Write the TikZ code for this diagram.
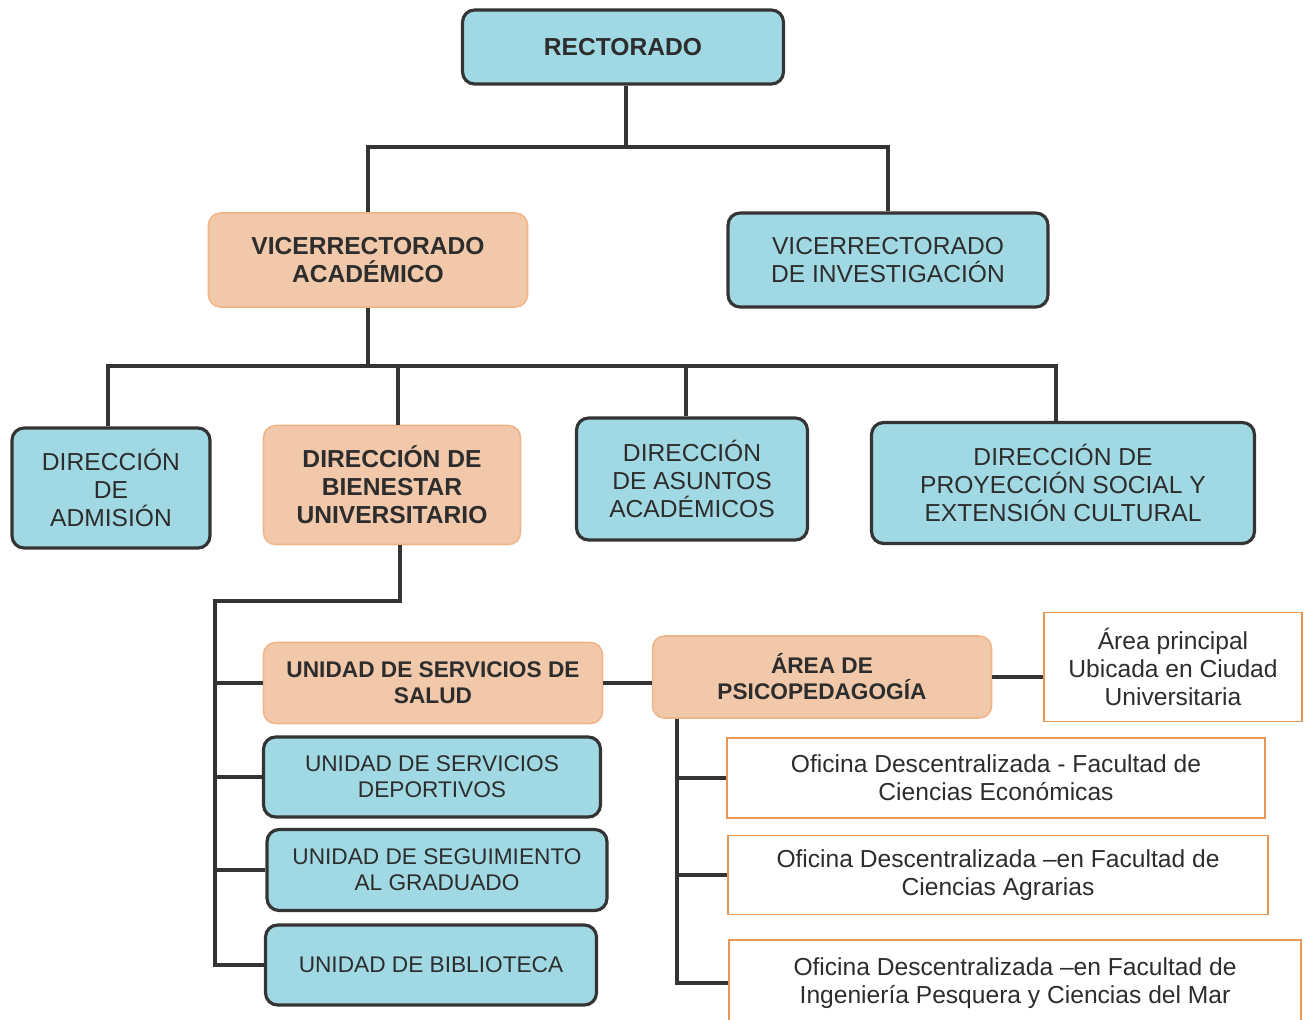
\documentclass[tikz,border=0pt]{standalone}
\usepackage{fontspec}
\setmainfont{Liberation Sans}
\definecolor{cielo}{RGB}{160,217,227}
\definecolor{durazno}{RGB}{241,201,170}
\definecolor{bordeosc}{RGB}{52,52,52}
\definecolor{bordenar}{RGB}{232,150,85}
\definecolor{texto}{RGB}{45,45,45}
\begin{document}
\begin{tikzpicture}[x=0.02cm,y=-0.02cm,
	caja/.style={rounded corners=0.24cm,inner sep=0pt,align=center,text=texto,
		font=\fontsize{14}{16}\selectfont},
	azul/.style={caja,fill=cielo,draw=bordeosc,line width=1.8pt},
	naranja/.style={caja,fill=durazno,draw=bordenar!70,line width=0.9pt,
		font=\fontsize{14}{16}\selectfont\bfseries},
	blanca/.style={caja,rounded corners=0pt,fill=white,draw=bordenar,line width=1.1pt},
	chica/.style={font=\fontsize{12.9}{14.8}\selectfont},
	chicab/.style={font=\fontsize{12.9}{14.8}\selectfont\bfseries},
	enlace/.style={draw=bordeosc,line width=2.3pt}]
	\useasboundingbox (0,0) rectangle (1308,1019);
	\clip (0,0) rectangle (1308,1019);
	% nivel superior
	\node (rect) at (623,47) [azul,minimum width=6.42cm,minimum height=1.48cm,
		font=\fontsize{14}{16}\selectfont\bfseries]{RECTORADO};
	\node (vaca) at (368,260) [naranja,minimum width=6.38cm,minimum height=1.88cm]{VICERRECTORADO\\ACADÉMICO};
	\node (vinv) at (888,260) [azul,minimum width=6.4cm,minimum height=1.88cm]{VICERRECTORADO\\DE INVESTIGACIÓN};
	% direcciones
	\node (dadm) at (111,488) [azul,minimum width=3.96cm,minimum height=2.4cm]{DIRECCIÓN\\DE\\ADMISIÓN};
	\node (dbie) at (392,485) [naranja,minimum width=5.14cm,minimum height=2.38cm]{DIRECCIÓN DE\\BIENESTAR\\UNIVERSITARIO};
	\node (dasu) at (692,479) [azul,minimum width=4.62cm,minimum height=2.44cm]{DIRECCIÓN\\DE ASUNTOS\\ACADÉMICOS};
	\node (dpro) at (1063,483) [azul,minimum width=7.66cm,minimum height=2.42cm]{DIRECCIÓN DE\\PROYECCIÓN SOCIAL Y\\EXTENSIÓN CULTURAL};
	% unidades
	\node (usal) at (433,683) [naranja,chicab,minimum width=6.78cm,minimum height=1.62cm]{UNIDAD DE SERVICIOS DE\\SALUD};
	\node (udep) at (432,777) [azul,chica,minimum width=6.74cm,minimum height=1.6cm]{UNIDAD DE SERVICIOS\\DEPORTIVOS};
	\node (useg) at (437,870) [azul,chica,minimum width=6.8cm,minimum height=1.62cm]{UNIDAD DE SEGUIMIENTO\\AL GRADUADO};
	\node (ubib) at (431,965) [azul,chica,minimum width=6.62cm,minimum height=1.6cm]{UNIDAD DE BIBLIOTECA};
	% psicopedagogia y oficinas
	\node (apsi) at (822,677) [naranja,chicab,minimum width=6.78cm,minimum height=1.64cm]{ÁREA DE\\PSICOPEDAGOGÍA};
	\node (apri) at (1173,667) [blanca,minimum width=5.16cm,minimum height=2.18cm]{Área principal\\Ubicada en Ciudad\\Universitaria};
	\node (ofi1) at (996,778) [blanca,minimum width=10.78cm,minimum height=1.6cm]{Oficina Descentralizada - Facultad de\\Ciencias Económicas};
	\node (ofi2) at (998,875) [blanca,minimum width=10.8cm,minimum height=1.58cm]{Oficina Descentralizada –en Facultad de\\Ciencias Agrarias};
	\node (ofi3) at (1015,983) [blanca,minimum width=11.46cm,minimum height=1.72cm]{Oficina Descentralizada –en Facultad de\\Ingeniería Pesquera y Ciencias del Mar};
	% enlaces
	\draw[enlace] ([xshift=0.06cm]rect.south) -- ++(0,61) coordinate (r1);
	\draw[enlace] (vaca.north) |- (r1) -| (vinv.north);
	\draw[enlace] (vaca.south) -- ++(0,58) coordinate (v1);
	\draw[enlace] ([xshift=-0.06cm]dadm.north) |- (v1) -| ([xshift=-0.14cm]dpro.north);
	\draw[enlace] ([xshift=0.12cm]dbie.north) -- ([xshift=0.12cm]dbie.north |- v1);
	\draw[enlace] ([xshift=-0.12cm]dasu.north) -- ([xshift=-0.12cm]dasu.north |- v1);
	\draw[enlace] ([xshift=0.16cm]dbie.south) -- ++(0,56) -| ([xshift=-0.96cm]usal.west) coordinate (b1);
	\draw[enlace] (b1) |- (ubib.west);
	\draw[enlace] (b1 |- usal.west) -- (usal.west);
	\draw[enlace] (b1 |- udep.west) -- (udep.west);
	\draw[enlace] (b1 |- useg.west) -- (useg.west);
	\draw[enlace] (usal.east) -- (apsi.west |- usal.east);
	\draw[enlace] (apsi.east) -- (apri.west |- apsi.east);
	\draw[enlace] ([xshift=0.5cm]apsi.south west) coordinate (p1) |- (ofi3.west);
	\draw[enlace] (p1 |- ofi1.west) -- (ofi1.west);
	\draw[enlace] (p1 |- ofi2.west) -- (ofi2.west);
\end{tikzpicture}
\end{document}
